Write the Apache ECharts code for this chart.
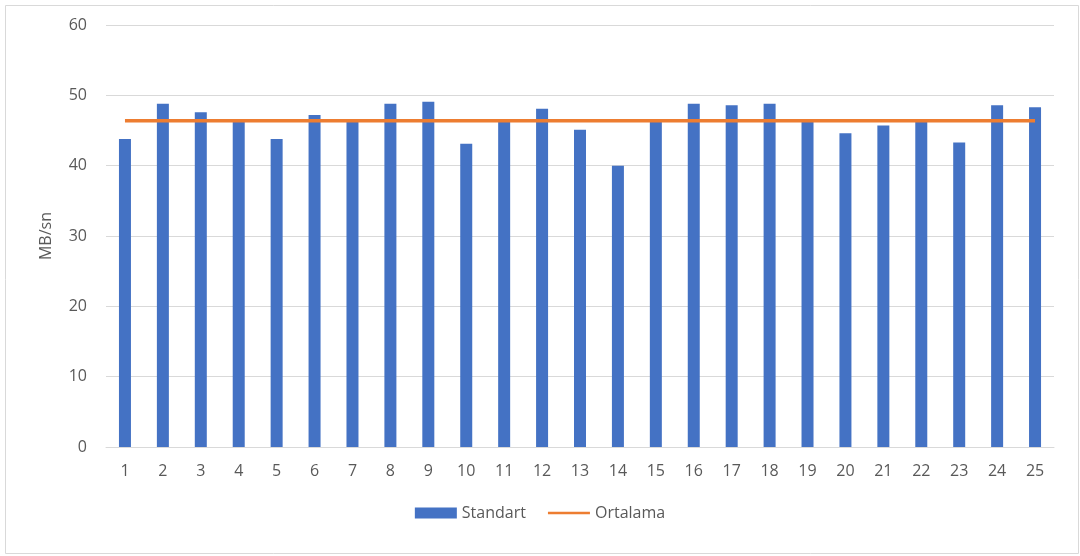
<!DOCTYPE html>
<html>
<head>
<meta charset="utf-8">
<script src="https://cdn.jsdelivr.net/npm/echarts@6/dist/echarts.min.js"></script>
<style>
html,body{margin:0;padding:0;background:#fff;}
#c{width:1080px;height:556px;}
</style>
</head>
<body>
<div id="c"></div>
<script>
var categories = ['1','2','3','4','5','6','7','8','9','10','11','12','13','14','15','16','17','18','19','20','21','22','23','24','25'];
var standart = [43.8,48.8,47.6,46.2,43.8,47.2,46.2,48.8,49.1,43.1,46.2,48.1,45.1,40.0,46.2,48.8,48.6,48.8,46.2,44.6,45.7,46.2,43.3,48.6,48.3];
var ortalama = [46.4,46.4,46.4,46.4,46.4,46.4,46.4,46.4,46.4,46.4,46.4,46.4,46.4,46.4,46.4,46.4,46.4,46.4,46.4,46.4,46.4,46.4,46.4,46.4,46.4];
var yTicks = [0,10,20,30,40,50,60];

var font = '"Open Sans", "Liberation Sans", sans-serif';
var chart = echarts.init(document.getElementById('c'));
chart.setOption({
  animation: false,
  backgroundColor: '#ffffff',
  textStyle: {fontFamily: font},
  graphic: [{
    type: 'rect', left: 3, top: 3, silent: true,
    shape: {width: 1073, height: 548},
    style: {fill: 'none', stroke: '#d9d9d9', lineWidth: 1}
  }],
  grid: {left: 106, right: 26, top: 25, bottom: 109},
  legend: {
    bottom: 30, left: 'center',
    itemWidth: 42, itemHeight: 11, itemGap: 22,
    textStyle: {color: '#595959', fontSize: 16, fontFamily: font},
    data: [
      {name: 'Standart', icon: 'rect'},
      {name: 'Ortalama', icon: 'path://M0,0 L46,0 L46,3 L0,3 Z', itemStyle: {color: '#ED7D31'}}
    ]
  },
  xAxis: {
    type: 'category',
    data: categories,
    axisLine: {lineStyle: {color: '#d9d9d9'}},
    axisTick: {show: false},
    axisLabel: {color: '#595959', fontSize: 16, margin: 16}
  },
  yAxis: {
    type: 'value',
    min: yTicks[0], max: yTicks[yTicks.length-1], interval: 10,
    name: 'MB/sn', nameLocation: 'middle', nameGap: 52, nameRotate: 90,
    nameTextStyle: {color: '#595959', fontSize: 16},
    axisLine: {show: false},
    axisTick: {show: false},
    axisLabel: {color: '#595959', fontSize: 16, margin: 19},
    splitLine: {lineStyle: {color: '#d9d9d9'}}
  },
  series: [
    {
      name: 'Standart', type: 'bar', data: standart,
      barWidth: 12,
      itemStyle: {color: '#4472C4'}
    },
    {
      name: 'Ortalama', type: 'line', data: ortalama,
      symbol: 'none', showSymbol: false,
      lineStyle: {color: '#ED7D31', width: 3.5},
      itemStyle: {color: '#ED7D31'}
    }
  ]
});
</script>
</body>
</html>
